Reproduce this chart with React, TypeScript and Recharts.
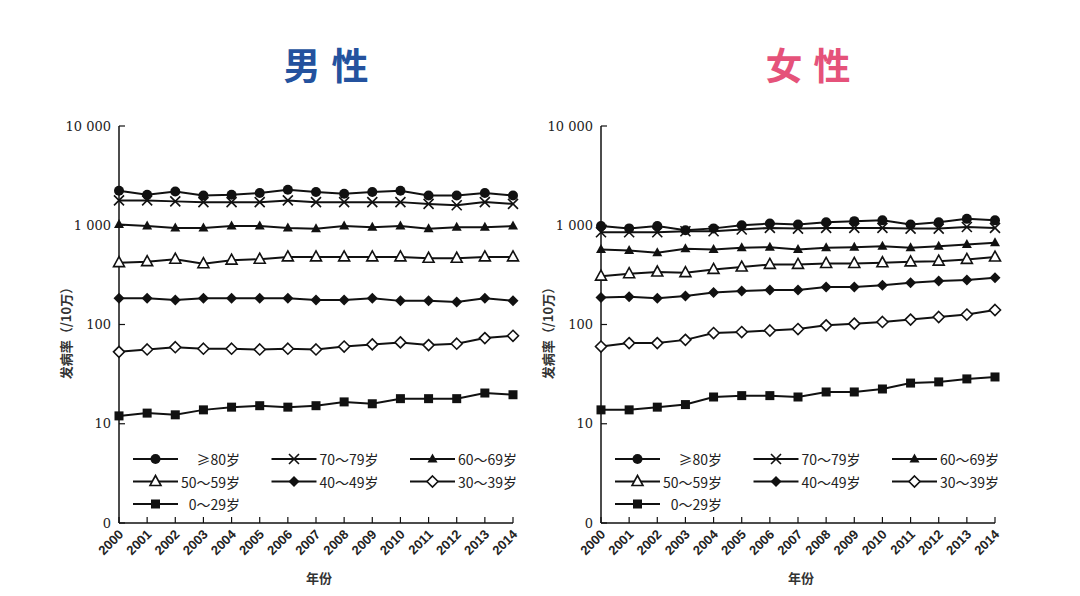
import React from 'react';
import { LineChart, Line, XAxis, YAxis, Legend } from 'recharts';

const YEARS = ['2000', '2001', '2002', '2003', '2004', '2005', '2006', '2007', '2008', '2009', '2010', '2011', '2012', '2013', '2014'];
const AGE_GROUPS = ['≥80岁', '70～79岁', '60～69岁', '50～59岁', '40～49岁', '30～39岁', '0～29岁'];
const Y_TICKS = [1, 10, 100, 1000, 10000];
const Y_TICK_LABELS = ['0', '10', '100', '1 000', '10 000'];

// 男性
const MALE_80 = [2230, 2030, 2190, 1990, 2030, 2110, 2280, 2160, 2080, 2160, 2230, 1990, 1990, 2110, 1990];
const MALE_70 = [1780, 1780, 1740, 1710, 1710, 1710, 1780, 1710, 1710, 1710, 1710, 1640, 1590, 1710, 1640];
const MALE_60 = [1020, 980, 940, 940, 980, 980, 940, 920, 980, 955, 980, 920, 955, 955, 980];
const MALE_50 = [420, 430, 455, 410, 445, 455, 480, 480, 480, 480, 480, 465, 465, 480, 480];
const MALE_40 = [184, 184, 177, 184, 184, 184, 184, 177, 177, 184, 173, 173, 169, 184, 173];
const MALE_30 = [53, 56, 59, 57, 57, 56, 57, 56, 60, 63, 66, 62, 64, 73, 77];
const MALE_0 = [12.0, 12.8, 12.3, 13.8, 14.7, 15.2, 14.7, 15.2, 16.6, 15.9, 17.9, 17.9, 17.9, 20.4, 19.6];

// 女性
const FEMALE_80 = [980, 930, 980, 890, 930, 1000, 1040, 1015, 1070, 1100, 1120, 1015, 1070, 1160, 1120];
const FEMALE_70 = [850, 850, 850, 870, 870, 905, 940, 925, 940, 940, 940, 925, 925, 960, 940];
const FEMALE_60 = [570, 557, 528, 579, 570, 593, 601, 570, 593, 601, 615, 593, 615, 640, 665];
const FEMALE_50 = [307, 325, 338, 333, 359, 379, 403, 403, 412, 412, 419, 428, 435, 453, 478];
const FEMALE_40 = [187, 190, 184, 194, 210, 218, 223, 223, 239, 239, 248, 264, 274, 281, 296];
const FEMALE_30 = [60, 65, 65, 70, 82, 84, 87, 90, 98, 102, 106, 112, 119, 126, 140];
const FEMALE_0 = [13.8, 13.8, 14.7, 15.6, 18.6, 19.2, 19.2, 18.6, 20.9, 20.9, 22.4, 25.7, 26.4, 28.3, 29.6];

const KEYS = ['g80', 'g70', 'g60', 'g50', 'g40', 'g30', 'g0'];
const MARKERS = ['circle', 'cross', 'triangle', 'triangleOpen', 'diamond', 'diamondOpen', 'square'];

const buildRows = (cols: number[][]) =>
    YEARS.map((year, i) => {
        const row: Record<string, any> = { year };
        KEYS.forEach((k, j) => { row[k] = cols[j][i]; });
        return row;
    });

const MALE_DATA = buildRows([MALE_80, MALE_70, MALE_60, MALE_50, MALE_40, MALE_30, MALE_0]);
const FEMALE_DATA = buildRows([FEMALE_80, FEMALE_70, FEMALE_60, FEMALE_50, FEMALE_40, FEMALE_30, FEMALE_0]);

const INK = '#111';

function Marker({ kind, cx, cy }: { kind: string; cx: number; cy: number }) {
    if (cx == null || cy == null) return null;
    switch (kind) {
        case 'circle':
            return <circle cx={cx} cy={cy} r={5} fill={INK} />;
        case 'cross':
            return (
                <path
                    d={`M${cx - 5},${cy - 5}L${cx + 5},${cy + 5}M${cx + 5},${cy - 5}L${cx - 5},${cy + 5}`}
                    stroke={INK} strokeWidth={1.6} fill="none"
                />
            );
        case 'triangle':
            return <path d={`M${cx},${cy - 5.5}L${cx + 5},${cy + 3.5}L${cx - 5},${cy + 3.5}Z`} fill={INK} />;
        case 'triangleOpen':
            return (
                <path d={`M${cx},${cy - 6}L${cx + 5.5},${cy + 4}L${cx - 5.5},${cy + 4}Z`}
                    fill="#fff" stroke={INK} strokeWidth={1.6} />
            );
        case 'diamond':
            return <path d={`M${cx},${cy - 5.5}L${cx + 5.5},${cy}L${cx},${cy + 5.5}L${cx - 5.5},${cy}Z`} fill={INK} />;
        case 'diamondOpen':
            return (
                <path d={`M${cx},${cy - 5.5}L${cx + 5.5},${cy}L${cx},${cy + 5.5}L${cx - 5.5},${cy}Z`}
                    fill="#fff" stroke={INK} strokeWidth={1.6} />
            );
        default:
            return <rect x={cx - 4.5} y={cy - 4.5} width={9} height={9} fill={INK} />;
    }
}

function AgeLegend() {
    return (
        <svg width={400} height={72} style={{ overflow: 'visible' }}>
            {AGE_GROUPS.map((label, i) => {
                const x0 = (i % 3) * 138.5;
                const y = 10 + Math.floor(i / 3) * 22.5;
                return (
                    <g key={label}>
                        <line x1={x0} x2={x0 + 45} y1={y} y2={y} stroke={INK} strokeWidth={2} />
                        <Marker kind={MARKERS[i]} cx={x0 + 22.5} cy={y} />
                        <text x={x0 + 107} y={y} textAnchor="end" dominantBaseline="central"
                            fontSize={14} fontFamily="'Noto Sans CJK SC'" fill="#222">
                            {label}
                        </text>
                    </g>
                );
            })}
        </svg>
    );
}

function YearTick({ x, y, payload }: any) {
    return (
        <text
            x={x + 2} y={y + 9}
            transform={`rotate(-45 ${x + 2} ${y + 9})`}
            textAnchor="end" dominantBaseline="central"
            fontSize={13} fontWeight={700} fontFamily="'Liberation Sans'" fill="#222"
        >
            {payload.value}
        </text>
    );
}

function Panel({ title, color, data, left }: { title: string; color: string; data: any[]; left: number }) {
    return (
        <div style={{ position: 'absolute', left, top: 0, width: 540, height: 596 }}>
            <div style={{
                position: 'absolute', left: 326 - 100, top: 46, width: 200, textAlign: 'center',
                fontSize: 37, lineHeight: '37px', fontWeight: 700, color,
                fontFamily: "'Noto Sans CJK SC'", letterSpacing: 11, paddingLeft: 11, boxSizing: 'border-box',
            }}>
                {title}
            </div>
            <LineChart width={540} height={596} data={data} margin={{ top: 126, right: 27, bottom: 0, left: 0 }}>
                <XAxis
                    dataKey="year" height={73} interval={0}
                    tickSize={-6} tickMargin={6} tick={<YearTick />}
                    axisLine={{ stroke: INK, strokeWidth: 1.5 }} tickLine={{ stroke: INK, strokeWidth: 1.2 }}
                    label={{
                        content: ({ viewBox }: any) => (
                            <text x={viewBox.x + viewBox.width / 2 + 3} y={viewBox.y + 54} textAnchor="middle"
                                dominantBaseline="central" fontSize={13} fontWeight={700}
                                fontFamily="'Noto Sans CJK SC'" fill="#333">年份</text>
                        ),
                    }}
                />
                <YAxis
                    width={119} scale="log" domain={[1, 10000]} ticks={Y_TICKS} interval={0}
                    tickFormatter={(v: number) => Y_TICK_LABELS[Y_TICKS.indexOf(v)]}
                    tickSize={-6} tickMargin={14}
                    tick={{ fontSize: 13, fontFamily: "'DejaVu Serif'", fill: '#222' }}
                    axisLine={{ stroke: INK, strokeWidth: 1.5 }} tickLine={{ stroke: INK, strokeWidth: 1.2 }}
                    label={{
                        content: ({ viewBox }: any) => {
                            const cx = viewBox.x + 65;
                            const cy = 330;
                            return (
                                <text x={cx} y={cy} transform={`rotate(-90 ${cx} ${cy})`} textAnchor="middle"
                                    dominantBaseline="central" fontSize={13} fontWeight={700}
                                    fontFamily="'Noto Sans CJK SC'" fill="#333">发病率（/10万）</text>
                            );
                        },
                    }}
                />
                <Legend
                    layout="horizontal" verticalAlign="middle" align="center"
                    content={<AgeLegend />}
                    wrapperStyle={{ left: 133, top: 449, width: 400, height: 72 }}
                />
                {KEYS.map((k, i) => (
                    <Line
                        key={k} dataKey={k} name={AGE_GROUPS[i]} type="linear"
                        stroke={INK} strokeWidth={2} isAnimationActive={false}
                        dot={(p: any) => <Marker key={`${k}-${p.index}`} kind={MARKERS[i]} cx={p.cx} cy={p.cy} />}
                        activeDot={false}
                    />
                ))}
            </LineChart>
        </div>
    );
}

export default function App() {
    return (
        <div style={{ position: 'absolute', left: 0, top: 0, width: 1080, height: 596, background: '#fff', overflow: 'hidden' }}>
            <Panel title="男性" color="#24529e" data={MALE_DATA} left={0} />
            <Panel title="女性" color="#e5527a" data={FEMALE_DATA} left={482} />
        </div>
    );
}
